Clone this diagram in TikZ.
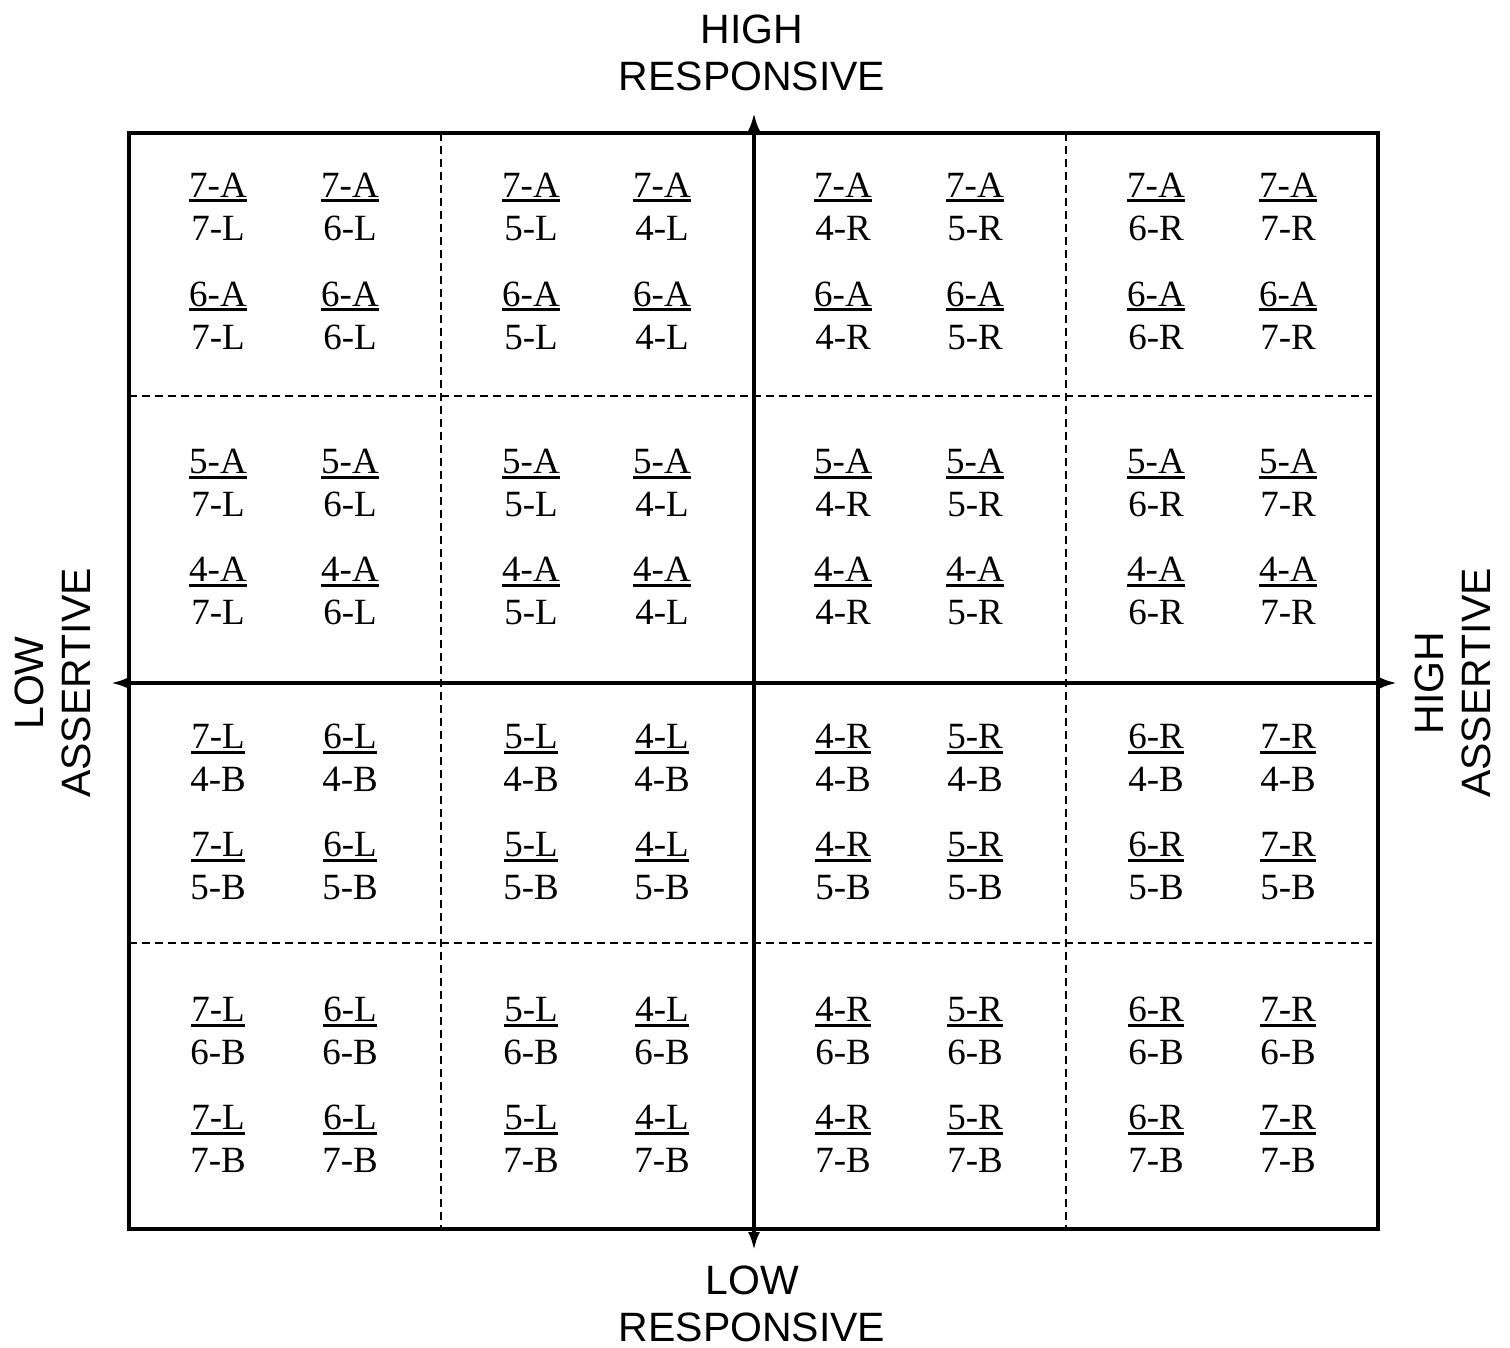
\documentclass[tikz,border=0pt]{standalone}
\usepackage{fontspec}
\setmainfont{Liberation Serif}
\newfontfamily\labfont{Liberation Sans}
\usetikzlibrary{arrows.meta}
\newsavebox\ulbox
\newcommand\ulbar[1]{\sbox\ulbox{#1}\rlap{\usebox\ulbox}\rule[-5pt]{\wd\ulbox}{3pt}}
\tikzset{
  fr/.style={anchor=base,inner sep=0pt,font=\fontsize{37}{43}\selectfont},
  lab/.style={inner sep=0pt,align=center,font=\labfont\fontsize{41}{47}\selectfont},
  frame/.style={line width=3.2pt},
  grid/.style={line width=2.2pt,dash pattern=on 8pt off 5pt},
  axis/.style={line width=3.2pt,{Latex[length=18pt,width=12pt]}-{Latex[length=18pt,width=12pt]}}
}
\begin{document}
\begin{tikzpicture}[x=1pt,y=-1pt]
\useasboundingbox (0,0) rectangle (1510,1348);
% frame corners
\coordinate (tl) at (129,133);
\coordinate (br) at (1378,1229);
% grid coordinates
\coordinate (v1t) at (441,133); \coordinate (v1b) at (441,1229);
\coordinate (v2t) at (1066,133); \coordinate (v2b) at (1066,1229);
\coordinate (h1l) at (129,396); \coordinate (h1r) at (1378,396);
\coordinate (h2l) at (129,943); \coordinate (h2r) at (1378,943);
% axis ends
\coordinate (axT) at (754,113);
\coordinate (axB) at (754,1250);
\coordinate (axL) at (111,683);
\coordinate (axR) at (1397,683);
\draw[grid] (v1t) -- (v1b);
\draw[grid] (v2t) -- (v2b);
\draw[grid] (h1l) -- (h1r);
\draw[grid] (h2l) -- (h2r);
\draw[frame] (tl) rectangle (br);
\draw[axis] (axB) -- (axT);
\draw[axis] (axL) -- (axR);
% labels
\node[lab] (hiR) at (752,52.5) {HIGH\\RESPONSIVE};
\node[lab] (loR) at (752,1304) {LOW\\RESPONSIVE};
\node[lab,rotate=90] (loA) at (52.5,683) {LOW\\ASSERTIVE};
\node[lab,rotate=90] (hiA) at (1453,683) {HIGH\\ASSERTIVE};
% upper half fractions
\foreach \yy/\a [count=\i] in {197.5/7-A,306.5/6-A,473.5/5-A,581.5/4-A}{
  \foreach \xx/\d [count=\j] in {218/7-L,350/6-L,531/5-L,662/4-L,843/4-R,975/5-R,1156/6-R,1288/7-R}{
    \node[fr] (n\i\j) at (\xx,\yy) {\ulbar{\a}};
    \node[fr] (d\i\j) at (\xx,\yy+43) {\d};
  }
}
% lower half fractions
\foreach \yy/\b [count=\i from 5] in {748.5/4-B,856.5/5-B,1021.5/6-B,1129.5/7-B}{
  \foreach \xx/\c [count=\j] in {218/7-L,350/6-L,531/5-L,662/4-L,843/4-R,975/5-R,1156/6-R,1288/7-R}{
    \node[fr] (n\i\j) at (\xx,\yy) {\ulbar{\c}};
    \node[fr] (d\i\j) at (\xx,\yy+43) {\b};
  }
}
\end{tikzpicture}
\end{document}
